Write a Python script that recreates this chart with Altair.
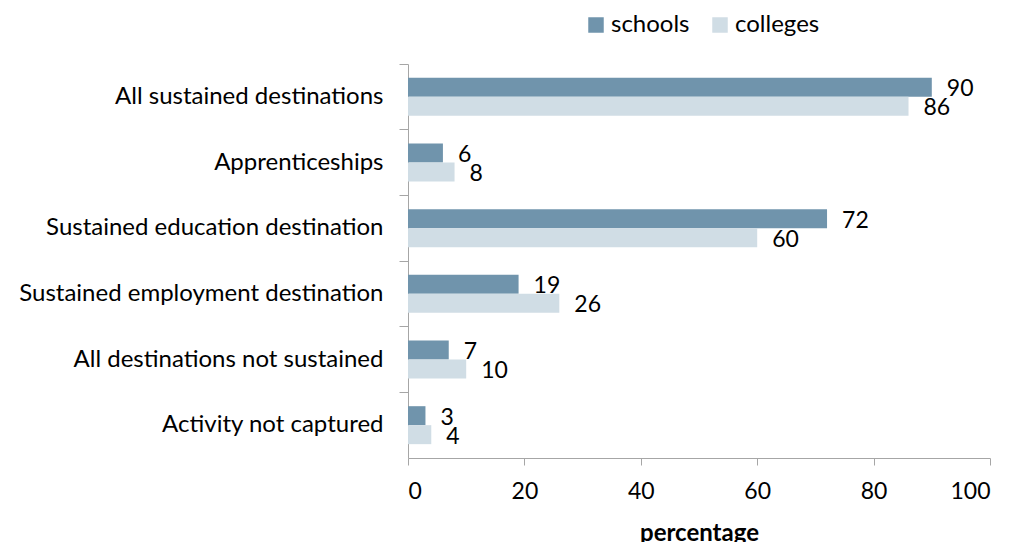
import altair as alt
import pandas as pd

categories = [
    "All sustained destinations",
    "Apprenticeships",
    "Sustained education destination",
    "Sustained employment destination",
    "All destinations not sustained",
    "Activity not captured",
]
series_names = ["schools", "colleges"]
schools = [90, 6, 72, 19, 7, 3]
colleges = [86, 8, 60, 26, 10, 4]
x_ticks = [0, 20, 40, 60, 80, 100]

rows = []
for c, s, k in zip(categories, schools, colleges):
    rows.append({"category": c, "series": "schools", "value": s})
    rows.append({"category": c, "series": "colleges", "value": k})
df = pd.DataFrame(rows)

FONT = "Lato"
GRAY = "#A6A6A6"

x_axis = alt.Axis(
    values=x_ticks, grid=False, domainColor=GRAY, tickColor=GRAY, tickSize=7,
    labelFontSize=23, labelFont=FONT, labelColor="#000000", labelPadding=15,
    title="percentage", titleFontSize=24, titleFont=FONT, titleFontWeight="bold",
    titleColor="#000000", titlePadding=18,
)
x_enc = alt.X("value:Q", scale=alt.Scale(domain=[0, 100], nice=False), axis=x_axis)
y_scale = alt.Scale(domain=categories, paddingInner=0, paddingOuter=0)
yo_enc = alt.YOffset(
    "series:N", sort=series_names,
    scale=alt.Scale(domain=series_names, paddingInner=0, paddingOuter=0.73),
)

bars = alt.Chart(df).mark_bar().encode(
    x=x_enc,
    y=alt.Y(
        "category:N", sort=categories, scale=y_scale,
        axis=alt.Axis(
            title=None, ticks=False, domainColor=GRAY, labelFontSize=24,
            labelFont=FONT, labelColor="#000000", labelPadding=25, labelLimit=500,
        ),
    ),
    yOffset=yo_enc,
    color=alt.Color(
        "series:N", sort=series_names,
        scale=alt.Scale(domain=series_names, range=["#7094AC", "#D0DDE5"]),
        legend=alt.Legend(
            title=None, orient="none", direction="horizontal",
            legendX=176, legendY=-51, symbolType="square", symbolSize=240,
            symbolStrokeWidth=0, labelFontSize=24, labelFont=FONT,
            labelColor="#000000", columnPadding=18, labelOffset=3,
        ),
    ),
)

labels = alt.Chart(df).mark_text(
    align="left", baseline="middle", dx=15, dy=2, fontSize=23, font=FONT, color="#000000"
).encode(
    x=x_enc,
    y=alt.Y(
        "category:N", sort=categories, scale=y_scale,
        axis=alt.Axis(
            title=None, labels=False, ticks=True, bandPosition=0, tickSize=9,
            tickColor=GRAY, domain=False, orient="left",
        ),
    ),
    yOffset=yo_enc,
    text=alt.Text("value:Q"),
)

chart = (
    alt.layer(bars, labels)
    .resolve_axis(y="independent")
    .properties(
        width=582, height=394,
        autosize=alt.AutoSizeParams(type="none"),
        padding={"left": 400, "top": 56, "right": 15, "bottom": 100},
    )
    .configure_view(stroke=None)
)

chart.save("out.html", embed_options={"renderer": "svg", "actions": False})
